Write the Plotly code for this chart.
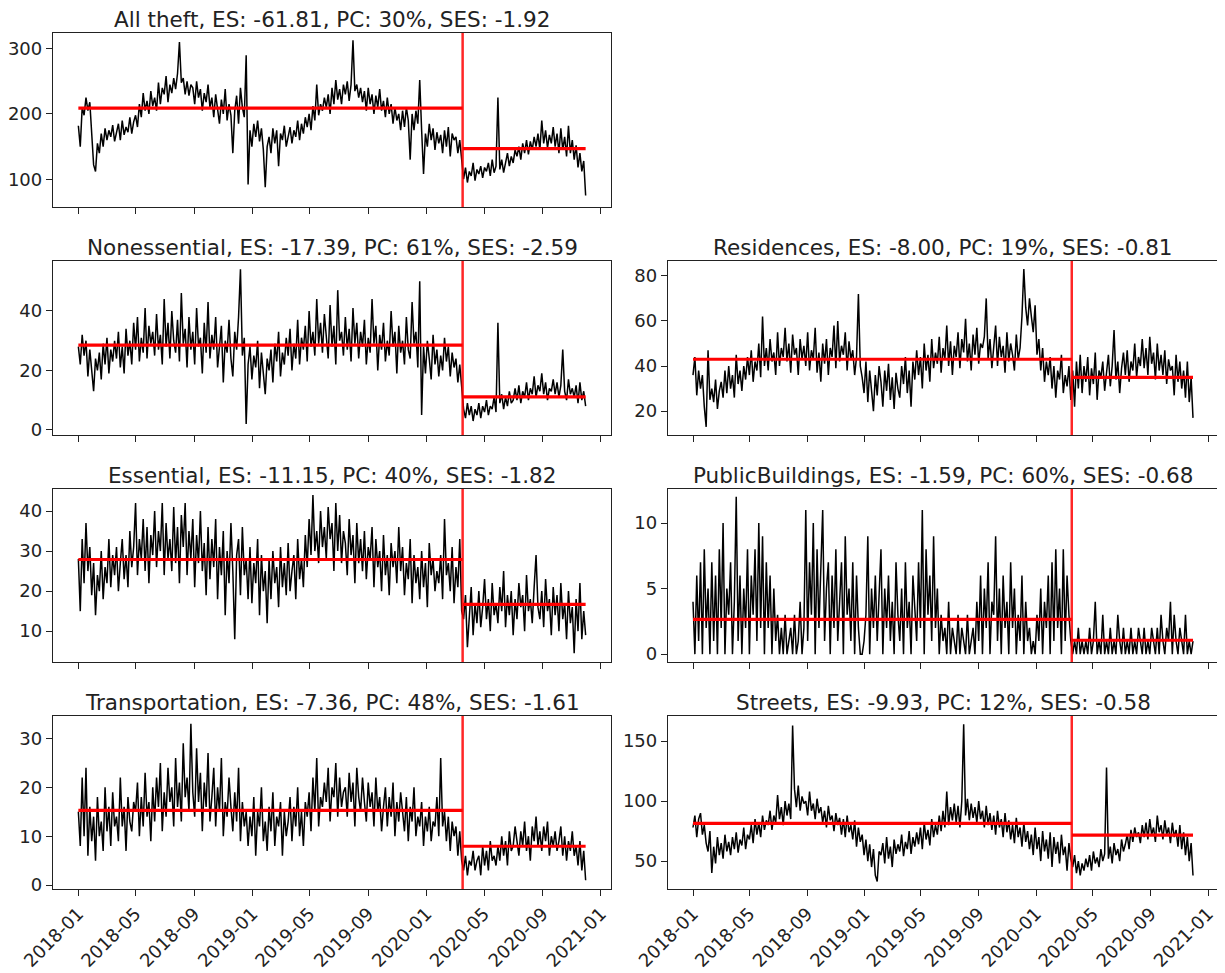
import pandas as pd
import plotly.graph_objects as go

START = "2018-01-01"
STEP = "4D"
INTERVENTION = "2020-03-17"

all_theft = [
    182, 150, 210, 198, 225, 205, 218, 170, 122, 112,
    155, 140, 170, 150, 178, 160, 175, 165, 183, 158,
    172, 185, 160, 190, 168, 180, 172, 195, 170, 188,
    198, 180, 215, 195, 232, 205, 220, 200, 235, 212,
    225, 205, 248, 215, 240, 230, 258, 218, 245, 232,
    255, 238, 262, 310, 248, 255, 230, 250, 228, 245,
    240, 215, 250, 225, 238, 205, 232, 218, 245, 210,
    225, 195, 230, 205, 185, 222, 200, 238, 190, 215,
    198, 140, 205, 228, 185, 240, 210, 195, 290, 92,
    175, 150, 185, 165, 190, 158, 178, 145, 88, 150,
    165, 140, 178, 155, 175, 120, 170, 160, 182, 150,
    168, 180, 155, 175, 165, 190, 160, 185, 170, 195,
    180, 200, 175, 212, 190, 245, 198, 215, 205, 225,
    210, 230, 200, 240, 215, 252, 222, 238, 215, 245,
    230, 250, 220, 245, 313, 235, 245, 225, 240, 218,
    235, 205, 240, 215, 230, 200, 228, 210, 238, 205,
    220, 195, 225, 200, 215, 185, 210, 190, 200, 175,
    205, 180, 210, 190, 130, 200, 175, 205, 185, 252,
    175, 108, 170, 150, 185, 160, 178, 145, 172, 155,
    168, 140, 175, 150, 180, 135, 170, 160, 165, 140,
    160, 130, 100, 118, 95, 112, 105, 125, 98, 115,
    108, 120, 102, 118, 112, 125, 105, 130, 110, 120,
    225, 115, 130, 110, 128, 140, 120, 135, 125, 145,
    135, 150, 130, 155, 140, 160, 138, 158, 145, 165,
    150, 170, 145, 190, 155, 175, 148, 168, 155, 180,
    150, 170, 140, 178, 145, 165, 135, 182, 140, 160,
    130, 152, 118, 140, 112, 128, 75,
]

nonessential = [
    28, 22, 32, 25, 30, 18, 27, 21, 13, 24,
    20, 26, 17, 29, 22, 31, 19, 27, 23, 30,
    24, 33, 21, 28, 19, 34, 25, 30, 22, 36,
    27, 38, 23, 31, 26, 41, 24, 35, 29, 33,
    25, 39, 27, 32, 22, 44, 28, 36, 24, 40,
    30, 26, 37, 23, 46, 29, 34, 21, 38, 27,
    33, 22, 41, 28, 31, 19, 36, 26, 43, 24,
    32, 27, 38, 21, 29, 35, 16, 30, 26, 37,
    24, 18, 33, 27, 38, 54, 25, 31, 2, 22,
    28, 17, 25, 21, 30, 14, 26, 19, 12, 24,
    20, 27, 16, 29, 23, 33, 18, 26, 22, 31,
    25, 34, 20, 29, 24, 37, 22, 31, 27, 35,
    23, 40, 28, 33, 25, 44, 29, 36, 26, 39,
    31, 24, 42, 28, 35, 22, 47, 30, 33, 25,
    38, 27, 34, 23, 41, 29, 36, 24, 33, 28,
    37, 22, 31, 26, 44, 29, 35, 20, 32, 27,
    36, 23, 30, 25, 40, 28, 33, 19, 35, 26,
    30, 22, 38, 27, 24, 43, 29, 33, 21, 50,
    5, 28, 19, 30, 24, 17, 32, 22, 27, 18,
    25, 20, 31, 23, 28, 18, 26, 21, 24, 16,
    22, 15, 7, 4, 9, 5, 8, 3, 7, 5,
    9, 4, 8, 6, 10, 5, 8, 7, 11, 6,
    36, 9, 12, 7, 11, 8, 13, 9, 10, 14,
    10, 15, 9, 13, 11, 16, 10, 14, 12, 18,
    11, 15, 13, 19, 12, 16, 10, 14, 13, 17,
    12, 16, 11, 15, 27, 13, 10, 17, 12, 14,
    11, 15, 9, 16, 10, 13, 8,
]

residences = [
    36, 44, 27, 38, 30, 36, 22, 13, 47, 25,
    30, 24, 34, 21, 29, 33, 26, 38, 28, 40,
    30, 36, 26, 45, 32, 38, 29, 40, 34, 44,
    36, 47, 33, 42, 38, 50, 35, 62, 40, 48,
    38, 52, 42, 46, 36, 55, 40, 48, 44, 57,
    42, 50, 37, 54, 45, 48, 36, 52, 43, 49,
    40, 55, 38, 47, 43, 57, 37, 46, 33, 50,
    41, 52, 36, 48, 44, 58, 39, 60, 42, 49,
    45, 55, 38, 51, 43, 47, 36, 44, 72, 40,
    35, 28, 42, 24, 38, 30, 20, 36, 27, 40,
    33, 22, 38, 29, 41, 25, 35, 21, 37, 30,
    26, 40, 32, 44, 28, 38, 22, 42, 34, 47,
    36, 44, 30, 50, 38, 45, 33, 52, 39, 46,
    41, 53, 37, 48, 43, 58, 40, 51, 36, 49,
    44, 55, 39, 52, 46, 61, 42, 50, 38, 54,
    45, 57, 41, 50, 48, 53, 70, 43, 52, 39,
    47, 58, 40, 53, 44, 49, 37, 55, 42, 50,
    45, 38, 54, 43, 48, 62, 83, 66, 58, 70,
    62, 55, 67, 45, 52, 38, 48, 33, 42, 36,
    44, 30, 40, 26, 38, 34, 45, 28, 36, 31,
    40, 25, 38, 22, 42, 30, 45, 28, 40, 33,
    44, 27, 39, 32, 46, 25, 38, 35, 42, 29,
    37, 45, 31, 40, 56, 34, 42, 28, 39, 46,
    36, 47, 33, 42, 38, 50, 35, 44, 40, 52,
    39, 48, 36, 53, 41, 46, 34, 50, 38, 45,
    36, 47, 32, 43, 38, 40, 27, 45, 33, 42,
    30, 38, 26, 42, 24, 35, 17,
]

essential = [
    28, 15, 33, 22, 37, 25, 31, 19, 27, 14,
    24, 20, 30, 18, 26, 22, 33, 21, 29, 24,
    31, 20, 27, 33, 23, 29, 21, 35, 26, 31,
    42, 24, 33, 28, 38, 25, 36, 22, 34, 29,
    40, 26, 35, 30, 42, 24, 37, 28, 33, 25,
    41, 27, 36, 22, 39, 31, 42, 24, 35, 28,
    38, 21, 34, 27, 40, 25, 32, 19, 36, 23,
    33, 26, 38, 18, 31, 24, 35, 14, 30, 22,
    37, 25, 8, 29, 33, 19, 36, 24, 28, 18,
    31, 17, 27, 22, 33, 14, 29, 20, 25, 12,
    28, 18, 30, 22, 26, 16, 31, 21, 27, 19,
    32, 20, 25, 29, 18, 33, 23, 28, 21, 34,
    26, 38, 29, 44, 30, 35, 27, 40, 31, 36,
    28, 41, 33, 37, 25, 42, 30, 39, 27, 35,
    32, 24, 38, 29, 34, 22, 37, 27, 33, 25,
    35, 23, 31, 28, 36, 21, 33, 26, 30, 20,
    34, 24, 29, 19, 32, 26, 30, 22, 36, 25,
    31, 19, 27, 23, 33, 17, 29, 22, 26, 18,
    30, 21, 27, 16, 32, 24, 28, 20, 25, 22,
    29, 18, 38, 24, 27, 20, 31, 17, 26, 21,
    33, 15, 13, 19, 6, 15, 21, 9, 17, 12,
    20, 11, 16, 23, 13, 18, 10, 22, 14, 17,
    12, 21, 15, 25, 11, 19, 14, 20, 9, 18,
    13, 22, 16, 19, 10, 24, 15, 18, 12, 21,
    29, 16, 13, 20, 11, 23, 15, 18, 9, 21,
    14, 19, 10, 22, 13, 17, 8, 20, 12, 16,
    4.5, 18, 10, 22, 8, 15, 9,
]

public_buildings = [
    4, 0, 6, 1, 7, 0, 8, 2, 5, 0,
    7, 1, 6, 0, 8, 2, 10, 0, 5, 3,
    7, 0, 4, 12, 1, 6, 0, 5, 2, 8,
    0, 6, 3, 8, 1, 10, 2, 9, 0, 7,
    2, 6, 0, 5, 1, 3, 0, 2, 0, 3,
    0, 1, 2, 0, 3, 0, 1, 4, 0, 2,
    11, 1, 7, 3, 10, 0, 8, 2, 6, 11,
    1, 5, 7, 0, 6, 2, 8, 1, 4, 7,
    0, 9, 3, 5, 1, 7, 0, 6, 2, 0,
    0, 1, 3, 9, 0, 5, 2, 6, 1, 4,
    8, 0, 5, 2, 6, 1, 4, 0, 7, 3,
    1, 5, 0, 7, 2, 4, 0, 6, 3, 1,
    7, 2, 11, 0, 8, 3, 6, 1, 9, 2,
    5, 0, 3, 1, 2, 0, 4, 0, 2, 1,
    0, 3, 0, 2, 1, 0, 3, 0, 1, 2,
    0, 4, 1, 6, 0, 5, 2, 7, 0, 4,
    3, 9, 1, 5, 0, 6, 2, 4, 0, 7,
    2, 5, 0, 3, 1, 6, 0, 4, 1, 2,
    0, 1, 0, 3, 1, 5, 0, 4, 2, 6,
    0, 7, 1, 8, 2, 5, 0, 8, 1, 6,
    3, 1, 0, 1, 0, 2, 0, 1, 0, 1,
    0, 2, 0, 1, 4, 0, 1, 0, 3, 0,
    1, 0, 2, 0, 1, 0, 3, 1, 0, 2,
    0, 1, 0, 2, 0, 1, 0, 2, 1, 0,
    2, 0, 1, 0, 2, 1, 0, 2, 0, 3,
    1, 0, 2, 1, 4, 0, 3, 1, 0, 2,
    1, 0, 3, 0, 1, 0, 1,
]

transportation = [
    15, 8, 22, 10, 24, 6, 16, 9, 14, 5,
    18, 10, 13, 7, 20, 11, 16, 8, 19, 12,
    14, 9, 22, 12, 16, 7, 18, 13, 11, 17,
    15, 21, 10, 18, 12, 23, 14, 17, 9, 20,
    13, 22, 16, 25, 11, 19, 14, 24, 17, 20,
    12, 26, 16, 21, 13, 29, 18, 22, 15, 33,
    19, 14, 28, 17, 23, 11, 21, 16, 27, 13,
    18, 24, 12, 20, 15, 26, 10, 17, 14, 22,
    16, 11, 19, 13, 24, 9, 17, 12, 15, 8,
    14, 10, 18, 6, 15, 12, 20, 9, 13, 7,
    16, 11, 19, 8, 14, 12, 17, 6, 15, 10,
    13, 18, 9, 16, 12, 20, 10, 15, 8, 17,
    14, 19, 11, 22, 15, 26, 12, 18, 16, 21,
    17, 24, 13, 20, 18, 25, 14, 22, 16, 19,
    20, 14, 23, 17, 21, 12, 24, 18, 15, 22,
    17, 13, 21, 16, 19, 12, 22, 15, 18, 11,
    16, 20, 12, 18, 14, 21, 10, 17, 13, 19,
    15, 11, 18, 9, 16, 13, 20, 10, 14, 12,
    17, 8, 14, 11, 16, 9, 13, 12, 18, 10,
    26, 12, 15, 9, 14, 7, 13, 10, 12, 6,
    11, 5, 3, 6, 2, 5, 4, 7, 3, 5,
    6, 2, 8, 4, 7, 3, 9, 5, 6, 4,
    8, 5, 10, 6, 9, 4, 11, 7, 8, 12,
    9, 6, 11, 8, 13, 7, 10, 5, 12, 9,
    14, 8, 11, 7, 12, 9, 13, 6, 10, 8,
    11, 7, 9, 12, 6, 10, 5, 9, 7, 11,
    6, 8, 4, 9, 3, 7, 1,
]

streets = [
    78, 88, 70, 85, 90, 72, 80, 65, 58, 75,
    40, 62, 48, 70, 55, 65, 52, 72, 58, 66,
    55, 70, 60, 74, 57, 68, 63, 78, 60, 72,
    68, 80, 65, 85, 72, 82, 70, 88, 76, 84,
    80, 92, 76, 88, 82, 105, 85, 95, 80, 100,
    88, 98, 85, 163, 110, 95, 113, 92, 104, 98,
    100, 88, 108, 92, 98, 85, 102, 90, 95, 82,
    92, 78, 96, 84, 88, 75, 90, 80, 86, 72,
    85, 70, 88, 74, 80, 68, 84, 62, 78, 66,
    72, 55, 68, 50, 64, 45, 60, 38, 33, 58,
    55, 65, 48, 70, 52, 62, 45, 68, 56, 64,
    58, 72, 54, 66, 60, 75, 56, 70, 62, 74,
    64, 78, 60, 82, 68, 76, 63, 85, 70, 80,
    72, 88, 75, 92, 78, 108, 80, 95, 84, 98,
    82, 96, 78, 100, 164, 88, 102, 84, 98, 86,
    95, 82, 100, 85, 92, 78, 96, 80, 90, 76,
    88, 72, 92, 78, 85, 70, 90, 74, 84, 68,
    80, 65, 86, 70, 78, 62, 82, 66, 75, 60,
    72, 55, 78, 60, 70, 50, 75, 58, 68, 52,
    74, 45, 70, 56, 66, 48, 72, 55, 62, 42,
    65, 52, 45, 55, 40, 50, 38, 48, 42, 52,
    45, 55, 42, 58, 48, 53, 45, 60, 50, 56,
    128, 52, 62, 48, 65, 55, 60, 50, 68, 58,
    64, 72, 60, 76, 66, 78, 70, 74, 65, 80,
    70, 82, 68, 85, 72, 78, 66, 88, 74, 80,
    68, 84, 72, 78, 65, 82, 70, 76, 62, 80,
    60, 74, 55, 70, 50, 65, 38,
]

names = ["All theft", "Nonessential", "Residences", "Essential",
         "PublicBuildings", "Transportation", "Streets"]
es_values = ["-61.81", "-17.39", "-8.00", "-11.15", "-1.59", "-7.36", "-9.93"]
pc_values = ["30%", "61%", "19%", "40%", "60%", "48%", "12%"]
ses_values = ["-1.92", "-2.59", "-0.81", "-1.82", "-0.68", "-1.61", "-0.58"]
pre_means = [208.8, 28.5, 43.0, 27.9, 2.65, 15.3, 81.5]
post_means = [147.0, 11.1, 35.0, 16.7, 1.06, 7.95, 71.6]
series = [all_theft, nonessential, residences, essential,
          public_buildings, transportation, streets]

# ---------------- layout (pixel geometry of the reference) ----------------
# The page body has the browser's default 8px margin, so the figure is made
# 8px smaller and all screen positions are shifted by that offset.
SCREEN_W, SCREEN_H = 1225, 973
OFF = 8
W, H = SCREEN_W - OFF, SCREEN_H - OFF
cells = [(0, 0), (1, 0), (1, 1), (2, 0), (2, 1), (3, 0), (3, 1)]
col_px = [(53, 611), (668, 1218)]
row_px = [(33, 207), (261, 435), (489, 662), (716, 889)]
y_ranges = [[57.5, 324], [-1.7, 56.8], [9.4, 86.6], [2.3, 45.5],
            [-0.6, 12.6], [-0.8, 34.6], [26.7, 171]]
y_dticks = [100, 20, 20, 10, 5, 10, 50]

FONT = "DejaVu Sans"
fig = go.Figure()
annotations = []
shapes = []

for i, vals in enumerate(series):
    k = i + 1
    xa = "x" if k == 1 else f"x{k}"
    ya = "y" if k == 1 else f"y{k}"
    dates = pd.date_range(START, periods=len(vals), freq=STEP)
    d0, d1 = dates[0], dates[-1]
    iv = pd.Timestamp(INTERVENTION)
    span = d1 - d0
    xr = [d0 - 0.05 * span, d1 + 0.05 * span]

    fig.add_trace(go.Scatter(x=dates, y=vals, mode="lines",
                             line=dict(color="black", width=1.5),
                             xaxis=xa, yaxis=ya, showlegend=False, hoverinfo="skip"))
    fig.add_trace(go.Scatter(x=[d0, iv], y=[pre_means[i]] * 2, mode="lines",
                             line=dict(color="red", width=3.2),
                             xaxis=xa, yaxis=ya, showlegend=False, hoverinfo="skip"))
    fig.add_trace(go.Scatter(x=[iv, d1], y=[post_means[i]] * 2, mode="lines",
                             line=dict(color="red", width=3.2),
                             xaxis=xa, yaxis=ya, showlegend=False, hoverinfo="skip"))
    shapes.append(dict(type="line", xref=xa, yref=f"{ya} domain",
                       x0=iv, x1=iv, y0=0, y1=1,
                       line=dict(color="rgba(255,0,0,0.85)", width=2.5)))

    r, c = cells[i]
    xd = [(col_px[c][0] - OFF) / W, (col_px[c][1] - OFF) / W]
    yd = [1 - (row_px[r][1] - OFF) / H, 1 - (row_px[r][0] - OFF) / H]
    bottom = (r == 3)
    fig.layout[("xaxis" if k == 1 else f"xaxis{k}")] = dict(
        domain=xd, anchor=ya, type="date", range=xr, automargin=False,
        tick0="2018-01-01", dtick="M4", tickformat="%Y-%m",
        showticklabels=bottom, tickangle=-45,
        ticks="outside", ticklen=6, tickwidth=1.3, tickcolor="#222",
        showline=True, mirror=True, linecolor="#222", linewidth=1.3,
        showgrid=False, zeroline=False,
        tickfont=dict(family=FONT, size=18, color="#222"))
    fig.layout[("yaxis" if k == 1 else f"yaxis{k}")] = dict(
        domain=yd, anchor=xa, range=y_ranges[i], dtick=y_dticks[i], automargin=False,
        ticks="outside", ticklen=6, tickwidth=1.3, tickcolor="#222",
        showline=True, mirror=True, linecolor="#222", linewidth=1.3,
        showgrid=False, zeroline=False,
        tickfont=dict(family=FONT, size=18, color="#222"))
    title = f"{names[i]}, ES: {es_values[i]}, PC: {pc_values[i]}, SES: {ses_values[i]}"
    annotations.append(dict(text=title, xref="paper", yref="paper",
                            x=(xd[0] + xd[1]) / 2, y=yd[1], xanchor="center",
                            yanchor="bottom", yshift=0, showarrow=False,
                            borderpad=0,
                            font=dict(family=FONT, size=21.5, color="#222")))

fig.update_layout(width=W, height=H, margin=dict(l=0, r=0, t=0, b=0),
                  paper_bgcolor="white", plot_bgcolor="white",
                  annotations=annotations, shapes=shapes, showlegend=False)
fig.write_html("out.html")
